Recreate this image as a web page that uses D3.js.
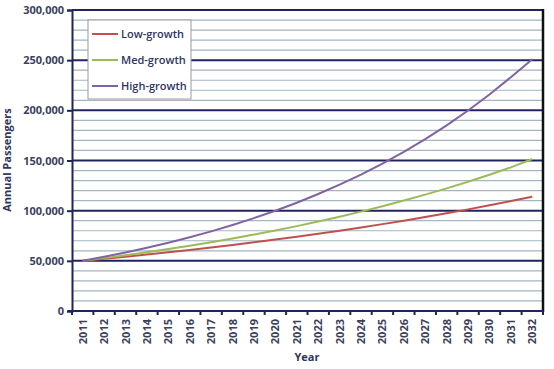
<!DOCTYPE html>
<html><head><meta charset="utf-8">
<script src="https://cdn.jsdelivr.net/npm/d3@7"></script>
<style>body{margin:0;background:#fff}svg{display:block}text{font-family:"Open Sans",sans-serif}</style>
</head><body><svg id="c" width="554" height="369"></svg>
<script>
const years = ["2011","2012","2013","2014","2015","2016","2017","2018","2019","2020","2021","2022","2023","2024","2025","2026","2027","2028","2029","2030","2031","2032"];
const lowGrowth = [50000,52000,54080,56243,58493,60833,63266,65797,68428,71166,74012,76973,80052,83254,86584,90047,93649,97395,101291,105343,109556,113938];
const medGrowth = [50000,52700,55546,58545,61707,65039,68551,72253,76155,80267,84602,89170,93985,99060,104410,110048,115990,122254,128856,135814,143148,151500];
const highGrowth = [50000,54000,58320,62986,68024,73466,79344,85691,92547,99950,107946,116582,125909,135981,146860,158608,171297,185001,199801,215785,233048,251000];
const yTicks = [0,50000,100000,150000,200000,250000,300000];
const seriesNames = ["Low-growth","Med-growth","High-growth"];

const series = [
  {name: seriesNames[0], values: lowGrowth, color: "#c0504d"},
  {name: seriesNames[1], values: medGrowth, color: "#9bbb59"},
  {name: seriesNames[2], values: highGrowth, color: "#8064a2"}
];

const svg = d3.select("#c");
const L = 72, R = 543, T = 10, B = 311;
const x = d3.scaleBand().domain(years).range([L, R]);
const y = d3.scaleLinear().domain([0, 300000]).range([B, T]);

// minor gridlines
const minor = d3.range(10000, 300000, 10000).filter(v => v % 50000 !== 0);
svg.append("g").selectAll("line").data(minor).join("line")
  .attr("x1", L).attr("x2", R).attr("y1", d => y(d)).attr("y2", d => y(d))
  .attr("stroke", "#a3b6c2").attr("stroke-width", 1.2);
// major gridlines
svg.append("g").selectAll("line").data(yTicks.filter(d => d > 0)).join("line")
  .attr("x1", L).attr("x2", R).attr("y1", d => y(d)).attr("y2", d => y(d))
  .attr("stroke", "#1f2460").attr("stroke-width", 2);

// right border
svg.append("line").attr("x1", R).attr("x2", R).attr("y1", T - 1).attr("y2", B + 1)
  .attr("stroke", "#111").attr("stroke-width", 2.5);

// y axis
const yAxis = d3.axisLeft(y).tickValues(yTicks).tickSize(5).tickFormat(d3.format(","));
const gy = svg.append("g").attr("transform", `translate(${L},0)`).call(yAxis);
gy.select(".domain").attr("stroke", "#1f2460").attr("stroke-width", 2);
gy.selectAll(".tick line").attr("stroke", "#1f2460").attr("stroke-width", 2);
gy.selectAll("text").attr("font-size", 11).attr("font-weight", "bold").attr("fill", "#3b3f5c").attr("x", -8);

// x axis with ticks at band boundaries
const gx = svg.append("g").attr("transform", `translate(0,${B})`);
gx.append("line").attr("x1", L - 4).attr("x2", R).attr("stroke", "#1f2460").attr("stroke-width", 2);
const bounds = years.map(d => x(d)).concat([R]);
gx.selectAll(".tk").data(bounds).join("line").attr("class", "tk")
  .attr("x1", d => d).attr("x2", d => d).attr("y1", 0).attr("y2", 4)
  .attr("stroke", "#1f2460").attr("stroke-width", 2);
gx.selectAll(".lb").data(years).join("text").attr("class", "lb")
  .attr("transform", d => `translate(${x(d) + x.bandwidth() / 2 + 4},8) rotate(-90)`)
  .attr("text-anchor", "end").attr("font-size", 11).attr("font-weight", "bold").attr("fill", "#3b3f5c")
  .text(d => d);

// axis titles
svg.append("text").attr("transform", "translate(11,160) rotate(-90)").attr("text-anchor", "middle")
  .attr("font-size", 11).attr("font-weight", "bold").attr("fill", "#2e3462").text("Annual Passengers");
svg.append("text").attr("x", 307).attr("y", 361).attr("text-anchor", "middle")
  .attr("font-size", 11).attr("font-weight", "bold").attr("fill", "#2e3462").text("Year");

// lines
const line = d3.line().x((d, i) => x(years[i]) + x.bandwidth() / 2).y(d => y(d));
svg.append("g").selectAll("path").data(series).join("path")
  .attr("d", d => line(d.values)).attr("fill", "none")
  .attr("stroke", d => d.color).attr("stroke-width", 2);

// legend
const lg = svg.append("g");
lg.append("rect").attr("x", 88).attr("y", 20).attr("width", 103).attr("height", 79)
  .attr("fill", "#fff").attr("stroke", "#9a9a9a").attr("stroke-width", 1);
series.forEach((s, i) => {
  const yy = 34 + i * 26;
  lg.append("line").attr("x1", 92).attr("x2", 118).attr("y1", yy).attr("y2", yy)
    .attr("stroke", s.color).attr("stroke-width", 2);
  lg.append("text").attr("x", 121).attr("y", yy + 4).attr("font-size", 11).attr("fill", "#2e3462")
    .attr("font-weight", 600).text(s.name);
});
</script></body></html>
